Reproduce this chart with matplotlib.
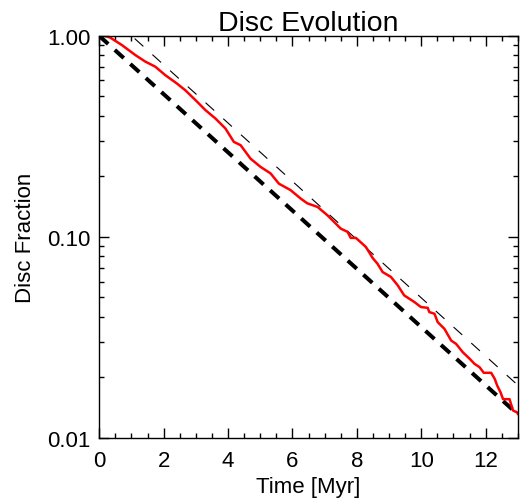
import numpy as np
import matplotlib
matplotlib.use("Agg")
import matplotlib.pyplot as plt
from matplotlib.ticker import MultipleLocator, LogLocator, NullFormatter

plt.rcParams['font.family'] = ['Liberation Sans', 'DejaVu Sans']

# simulated disc fraction
t_sim = [0.0, 0.10, 0.34, 0.70, 1.12, 1.43, 1.74, 2.05, 2.41, 2.67, 2.99, 3.30, 3.61,
         3.92, 4.18, 4.39, 4.70, 5.01, 5.32, 5.58, 5.94, 6.26, 6.46, 6.78, 7.09,
         7.50, 7.71, 7.81, 7.97, 8.28, 8.49, 8.64, 8.80, 9.06, 9.27, 9.47, 9.79,
         9.99, 10.20, 10.25, 10.41, 10.51, 10.72, 10.93, 11.08, 11.29, 11.50, 11.65,
         11.81, 11.94, 12.17, 12.28, 12.36, 12.46, 12.54, 12.74, 12.85, 12.98, 13.0]
frac_sim = [1.02, 1.01, 0.981, 0.901, 0.803, 0.745, 0.703, 0.638, 0.580, 0.537, 0.479,
            0.427, 0.388, 0.346, 0.297, 0.286, 0.245, 0.223, 0.207, 0.184, 0.171,
            0.155, 0.147, 0.141, 0.128, 0.110, 0.106, 0.0989, 0.0989, 0.0892, 0.0786,
            0.0736, 0.0669, 0.0632, 0.0574, 0.0512, 0.0474, 0.0448, 0.0444, 0.0423,
            0.0415, 0.0377, 0.0349, 0.0305, 0.0294, 0.0267, 0.0248, 0.0234, 0.0225,
            0.0211, 0.0211, 0.0197, 0.0182, 0.0169, 0.0156, 0.0156, 0.0137, 0.0134,
            0.0132]

# reference exponential decays (end points)
t_model = [0.0, 13.0]
frac_thick = [1.0, 0.0131]
frac_thin = [1.40, 0.0183]

fig = plt.figure(figsize=(5.21, 5.02), dpi=100)
ax = fig.add_axes([0.1905, 0.1255, 0.8035, 0.801])

ax.plot(t_model, frac_thick, color='black', lw=2.9, dashes=(3.0, 2.2))
ax.plot(t_model, frac_thin, color='black', lw=0.8, dashes=(10.5, 11.0))
ax.plot(t_sim, frac_sim, color='red', lw=1.8)

ax.set_yscale('log')
ax.set_xlim(0, 13)
ax.set_ylim(0.01, 1.0)

ax.xaxis.set_major_locator(MultipleLocator(2))
ax.xaxis.set_minor_locator(MultipleLocator(0.5))
ax.yaxis.set_minor_locator(LogLocator(base=10, subs=np.arange(2, 10), numticks=20))
ax.yaxis.set_minor_formatter(NullFormatter())
ax.set_yticks([0.01, 0.1, 1.0])
ax.set_yticklabels(['0.01', '0.10', '1.00'])

ax.tick_params(which='both', direction='in', top=True, right=True,
               labelsize=16, width=1.0, color='black')
ax.tick_params(which='major', length=7)
ax.tick_params(which='minor', length=3.5)
ax.tick_params(axis='y', pad=6)
ax.tick_params(axis='x', pad=9)
for s in ax.spines.values():
    s.set_linewidth(1.0)

ax.set_xlabel('Time [Myr]', fontsize=16, labelpad=3)
ax.set_ylabel('Disc Fraction', fontsize=16, labelpad=8)
ax.set_title('Disc Evolution', fontsize=20.5, pad=4)

fig.savefig('out.png', dpi=100)
